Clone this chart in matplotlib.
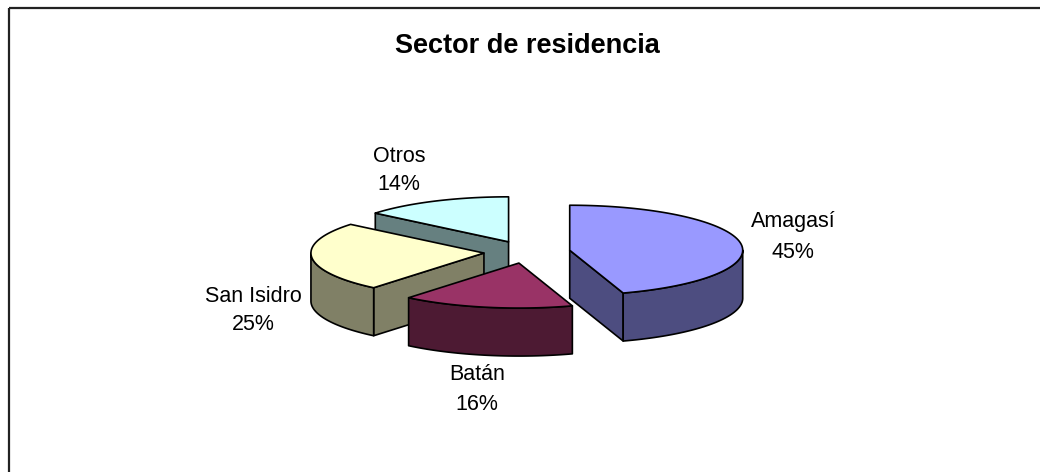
"""Sector de residencia: exploded 3D pie in the old spreadsheet style."""

import numpy as np
from matplotlib import pyplot as plt
from matplotlib.patches import Polygon, Rectangle

plt.rcParams["font.family"] = ["Liberation Sans", "DejaVu Sans"]

# data
sectores = ["Amagasí", "Batán", "San Isidro", "Otros"]
porcentajes = [45, 16, 25, 14]
color_tapa = ["#9999FF", "#993366", "#FFFFCC", "#CCFFFF"]
color_pared = ["#4D4D80", "#4D1A33", "#808066", "#668080"]

# layout (pixels, y down)
cx, cy = 527, 252  # pie centre
rx, ry = 173, 45  # ellipse semi-axes of the top face
alto = 48  # wall height
explode = 0.25
etiquetas_x = [793, 477, 253, 399]
etiquetas_base = [(226.5, 257.5), (380.5, 409.5), (302.5, 330.5), (162.5, 190.5)]

fig = plt.figure(figsize=(10.4, 4.72), dpi=100)
ax = fig.add_axes([0, 0, 1, 1])
ax.set_xlim(0, 1040)
ax.set_ylim(472, 0)
ax.axis("off")

ax.add_patch(Rectangle((9, 8), 1040, 480, fill=False, edgecolor="#222222", linewidth=1.6))


def rim(x0, y0, t0, t1, n=90):
    t = np.radians(np.linspace(t0, t1, n))
    return x0 + rx * np.sin(t), y0 - ry * np.cos(t)


def face(xs, ys, color, z):
    ax.add_patch(Polygon(np.column_stack([xs, ys]), closed=True, facecolor=color,
                         edgecolor="black", linewidth=1.2, joinstyle="round", zorder=z))


# angles clockwise from 12 o'clock
bordes = np.concatenate([[0], np.cumsum(porcentajes)]) * 3.6
slices = []
for i in range(len(sectores)):
    t0, t1 = bordes[i], bordes[i + 1]
    mid = np.radians((t0 + t1) / 2)
    px = cx + explode * rx * np.sin(mid)
    py = cy - explode * ry * np.cos(mid)
    slices.append((py, i, t0, t1, px))

# back slices first
z = 2
for py, i, t0, t1, px in sorted(slices):
    # radial walls facing the viewer
    for t, visible in ((t0, np.sin(np.radians(t0)) < -1e-6), (t1, np.sin(np.radians(t1)) > 1e-6)):
        if visible:
            ex, ey = rim(px, py, t, t, 1)
            face([px, ex[0], ex[0], px], [py, ey[0], ey[0] + alto, py + alto], color_pared[i], z)
            z += 1
    # curved front wall
    a, b = max(t0, 90), min(t1, 270)
    if b > a:
        xs, ys = rim(px, py, a, b)
        face(np.concatenate([xs, xs[::-1]]), np.concatenate([ys, ys[::-1] + alto]), color_pared[i], z)
        z += 1
    # top face
    xs, ys = rim(px, py, t0, t1)
    face(np.concatenate([[px], xs]), np.concatenate([[py], ys]), color_tapa[i], z)
    z += 1

for nombre, pct, x, (b1, b2) in zip(sectores, porcentajes, etiquetas_x, etiquetas_base):
    ax.text(x, b1, nombre, ha="center", va="baseline", fontsize=15.5)
    ax.text(x, b2, f"{pct}%", ha="center", va="baseline", fontsize=15.5)

ax.text(527.5, 53, "Sector de residencia", ha="center", va="baseline",
        fontsize=19.5, fontweight="bold")

fig.savefig("out.png", dpi=100)
